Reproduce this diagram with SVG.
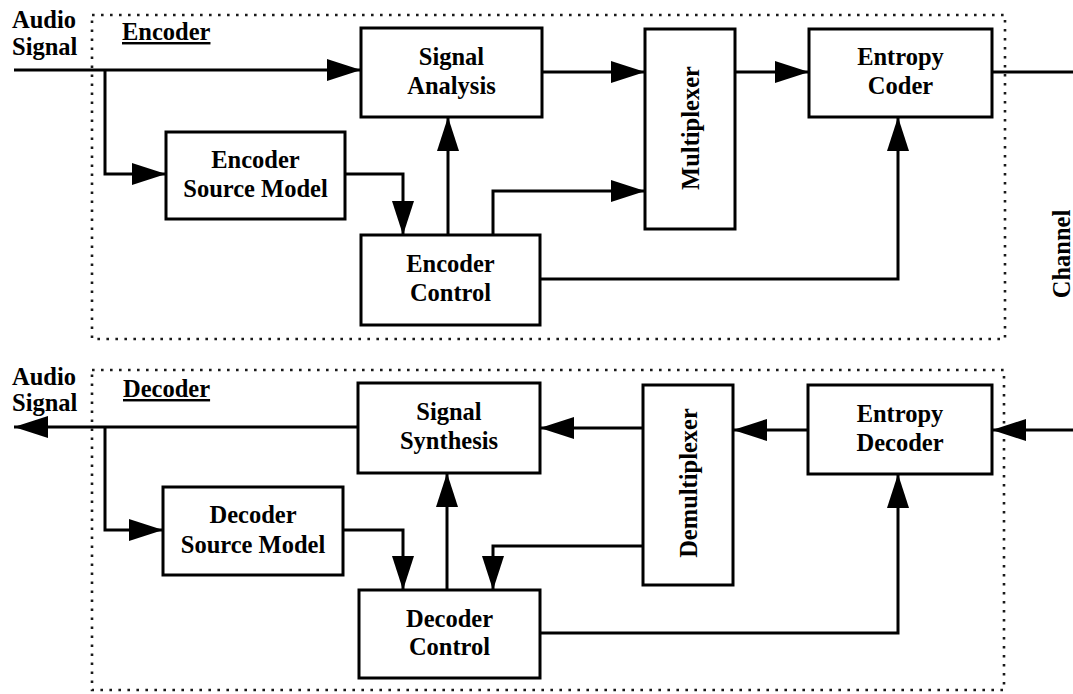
<svg xmlns="http://www.w3.org/2000/svg" width="1073" height="694" viewBox="0 0 1073 694">
  <style>
    .frame { fill: none; stroke: #1a1a1a; stroke-width: 2.6; stroke-dasharray: 2.6 6.4; }
    .block { fill: #fff; stroke: #000; stroke-width: 3; }
    .wire { fill: none; stroke: #000; stroke-width: 3; }
    .arr { marker-end: url(#ah); }
    .lbl { font-family: "Liberation Serif", "Times New Roman", serif; font-weight: bold; font-size: 24.5px; fill: #000; }
    .mid { text-anchor: middle; }
    .ul { text-decoration: underline; }
  </style>
  <defs>
    <marker id="ah" markerWidth="34" markerHeight="22" refX="34" refY="11" orient="auto" markerUnits="userSpaceOnUse">
      <path d="M0,0 L34,11 L0,22 z" fill="#000"/>
    </marker>
  </defs>
  <rect width="1073" height="694" fill="#fff"/>

  <!-- encoder / decoder frames -->
  <g id="frames">
    <rect class="frame" x="92" y="15" width="913" height="324"/>
    <rect class="frame" x="92" y="370" width="912" height="320"/>
  </g>

  <!-- free labels -->
  <g id="labels">
    <text class="lbl" x="12" y="28">Audio</text>
    <text class="lbl" x="12" y="55">Signal</text>
    <text class="lbl ul" x="122" y="40">Encoder</text>
    <text class="lbl" x="12" y="385">Audio</text>
    <text class="lbl" x="12" y="411">Signal</text>
    <text class="lbl ul" x="123" y="397">Decoder</text>
    <text class="lbl mid" transform="translate(1070,254) rotate(-90)">Channel</text>
  </g>

  <!-- connectors -->
  <g id="connectors">
    <!-- encoder -->
    <path class="wire arr" d="M14,70 H361"/>
    <path class="wire arr" d="M105,70 V174 H166"/>
    <path class="wire arr" d="M542,72 H645"/>
    <path class="wire arr" d="M735,72 H809"/>
    <path class="wire" d="M992,72 H1073"/>
    <path class="wire arr" d="M345,174 H403 V235"/>
    <path class="wire arr" d="M448,235 V117"/>
    <path class="wire arr" d="M493,235 V191 H645"/>
    <path class="wire arr" d="M540,279 H898 V117"/>
    <!-- decoder -->
    <path class="wire arr" d="M1073,430 H992"/>
    <path class="wire arr" d="M808,430 H733"/>
    <path class="wire arr" d="M643,428 H540"/>
    <path class="wire arr" d="M358,427 H14"/>
    <path class="wire arr" d="M105,427 V530 H163"/>
    <path class="wire arr" d="M343,530 H403 V590"/>
    <path class="wire arr" d="M447,590 V473"/>
    <path class="wire arr" d="M643,546 H493 V590"/>
    <path class="wire arr" d="M540,633 H898 V474"/>
  </g>

  <!-- encoder blocks -->
  <g id="signal-analysis">
    <rect class="block" x="361" y="28" width="181" height="89"/>
    <text class="lbl mid" x="451.5" y="65">Signal</text>
    <text class="lbl mid" x="451.5" y="94">Analysis</text>
  </g>
  <g id="multiplexer">
    <rect class="block" x="645" y="29" width="90" height="200"/>
    <text class="lbl mid" transform="translate(699,128) rotate(-90)">Multiplexer</text>
  </g>
  <g id="entropy-coder">
    <rect class="block" x="809" y="29" width="183" height="88"/>
    <text class="lbl mid" x="900.5" y="65">Entropy</text>
    <text class="lbl mid" x="900.5" y="94">Coder</text>
  </g>
  <g id="encoder-source-model">
    <rect class="block" x="166" y="132" width="179" height="87"/>
    <text class="lbl mid" x="255.5" y="168">Encoder</text>
    <text class="lbl mid" x="255.5" y="197">Source Model</text>
  </g>
  <g id="encoder-control">
    <rect class="block" x="361" y="235" width="179" height="90"/>
    <text class="lbl mid" x="450.5" y="272">Encoder</text>
    <text class="lbl mid" x="450.5" y="301">Control</text>
  </g>

  <!-- decoder blocks -->
  <g id="signal-synthesis">
    <rect class="block" x="358" y="383" width="182" height="90"/>
    <text class="lbl mid" x="449" y="420">Signal</text>
    <text class="lbl mid" x="449" y="449">Synthesis</text>
  </g>
  <g id="demultiplexer">
    <rect class="block" x="643" y="385" width="90" height="200"/>
    <text class="lbl mid" transform="translate(697,483) rotate(-90)">Demultiplexer</text>
  </g>
  <g id="entropy-decoder">
    <rect class="block" x="808" y="385" width="184" height="89"/>
    <text class="lbl mid" x="900" y="422">Entropy</text>
    <text class="lbl mid" x="900" y="451">Decoder</text>
  </g>
  <g id="decoder-source-model">
    <rect class="block" x="163" y="487" width="180" height="88"/>
    <text class="lbl mid" x="253" y="523">Decoder</text>
    <text class="lbl mid" x="253" y="553">Source Model</text>
  </g>
  <g id="decoder-control">
    <rect class="block" x="359" y="590" width="181" height="88"/>
    <text class="lbl mid" x="449.5" y="627">Decoder</text>
    <text class="lbl mid" x="449.5" y="655">Control</text>
  </g>
</svg>
